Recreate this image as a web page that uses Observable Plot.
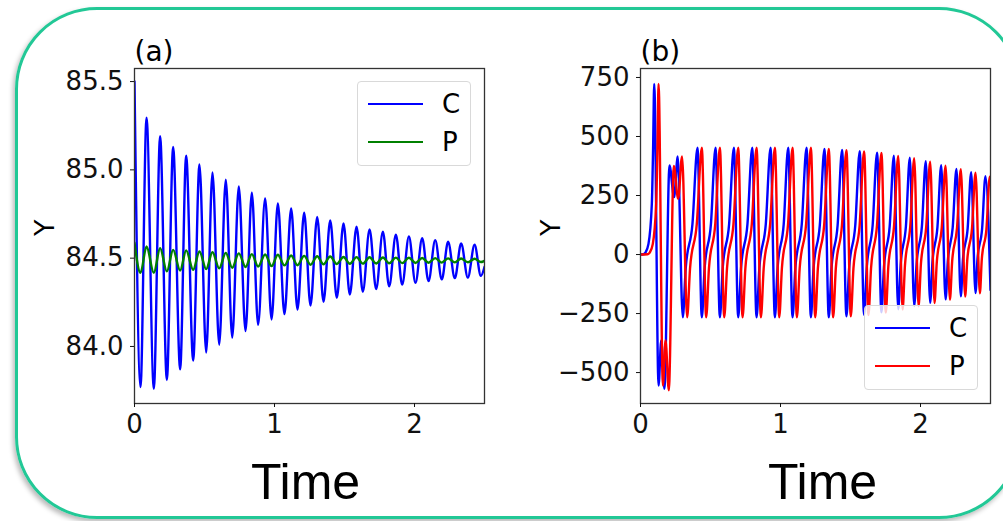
<!DOCTYPE html>
<html>
<head>
<meta charset="utf-8">
<script src="https://cdn.jsdelivr.net/npm/d3@7"></script>
<script src="https://cdn.jsdelivr.net/npm/@observablehq/plot@0.6"></script>
<style>
  html, body { margin: 0; padding: 0; background: #fff; }
  body { width: 1003px; height: 521px; overflow: hidden; position: relative; font-family: "DejaVu Sans", sans-serif; }
  .border { position: absolute; left: 15px; top: 7px; width: 1006px; height: 512px; box-sizing: border-box;
            border: 3px solid #22c896; border-radius: 82px; box-shadow: -2px 3px 5px rgba(0,0,0,0.28); }
  .panel { position: absolute; top: 0; }
  .legend { position: absolute; box-sizing: border-box; border: 1px solid #d9d9d9; border-radius: 4px;
            background: rgba(255,255,255,0.8); }
  .sw { position: absolute; height: 2px; }
  .lt { position: absolute; font-size: 26px; line-height: 26px; color: #000; }
</style>
</head>
<body>
<div class="border"></div>
<div id="pa" class="panel" style="left:0px"></div>
<div id="pb" class="panel" style="left:500px"></div>
<script>
// ---------- Panel (a) data ----------
const timeA = [0, 0.043, 0.086, 0.138, 0.183, 0.231, 0.276, 0.326, 0.369, 0.419, 0.464, 0.512, 0.557, 0.605, 0.652, 0.698, 0.745, 0.793, 0.838, 0.883, 0.933, 0.979, 1.024, 1.071, 1.119, 1.164, 1.212, 1.257, 1.305, 1.35, 1.398, 1.445, 1.493, 1.538, 1.586, 1.631, 1.679, 1.726, 1.774, 1.819, 1.867, 1.912, 1.96, 2.007, 2.055, 2.1, 2.148, 2.195, 2.24, 2.288, 2.333, 2.381, 2.429, 2.474, 2.5];
const cA = [85.5, 83.77, 85.295, 83.76, 85.19, 83.81, 85.13, 83.87, 85.08, 83.92, 85.03, 83.966, 84.985, 84.01, 84.944, 84.05, 84.906, 84.087, 84.87, 84.123, 84.838, 84.153, 84.81, 84.183, 84.781, 84.209, 84.757, 84.232, 84.734, 84.253, 84.713, 84.276, 84.696, 84.294, 84.678, 84.31, 84.663, 84.325, 84.65, 84.34, 84.633, 84.35, 84.623, 84.36, 84.613, 84.37, 84.602, 84.38, 84.593, 84.387, 84.583, 84.39, 84.576, 84.40, 84.45];
const pA = [84.587, 84.417, 84.566, 84.417, 84.557, 84.425, 84.547, 84.43, 84.544, 84.434, 84.538, 84.438, 84.534, 84.442, 84.53, 84.446, 84.527, 84.45, 84.523, 84.453, 84.521, 84.455, 84.519, 84.459, 84.515, 84.46, 84.513, 84.463, 84.511, 84.465, 84.509, 84.467, 84.507, 84.468, 84.506, 84.469, 84.505, 84.47, 84.504, 84.471, 84.503, 84.472, 84.502, 84.473, 84.501, 84.474, 84.5, 84.475, 84.499, 84.476, 84.498, 84.477, 84.497, 84.478, 84.485];
const yTicksA = [84.0, 84.5, 85.0, 85.5];

// ---------- Panel (b) data ----------
const timeBC = [0, 0.02, 0.035, 0.057, 0.081, 0.09, 0.098, 0.129, 0.148, 0.171, 0.207, 0.24, 0.266, 0.302,
  0.323, 0.371, 0.407, 0.438,
  0.458, 0.503, 0.536, 0.567,
  0.587, 0.633, 0.667, 0.698,
  0.718, 0.764, 0.798, 0.829,
  0.849, 0.895, 0.929, 0.96,
  0.979, 1.023, 1.055, 1.086,
  1.106, 1.152, 1.186, 1.217,
  1.236, 1.281, 1.314, 1.345,
  1.364, 1.408, 1.44, 1.471,
  1.49, 1.534, 1.566, 1.597,
  1.616, 1.658, 1.69, 1.721,
  1.739, 1.78, 1.81, 1.841,
  1.858, 1.896, 1.924, 1.955,
  1.972, 2.01, 2.038, 2.069,
  2.085, 2.121, 2.148, 2.179,
  2.195, 2.23, 2.257, 2.288,
  2.303, 2.337, 2.362, 2.393,
  2.407, 2.44, 2.464, 2.5];
const cB = [0, 1, 8, 45, 215, 450, 723, -555, -364, -569, 377, 243, 415, -266,
  -58, 129, 452, -266,
  -58, 129, 452, -266,
  -58, 129, 452, -266,
  -58, 129, 452, -266,
  -58, 129, 452, -266,
  -58, 129, 452, -266,
  -58, 129, 452, -266,
  -59, 126, 447, -266,
  -60, 124, 443, -262,
  -59, 123, 438, -255,
  -56, 122, 431, -245,
  -52, 120, 419, -232,
  -46, 121, 410, -218,
  -40, 119, 395, -204,
  -35, 116, 378, -190,
  -30, 114, 363, -177,
  -24, 112, 349, -163,
  -19, 109, 332, -150];
const timeBP = [0, 0.05, 0.066, 0.088, 0.112, 0.121, 0.129, 0.16, 0.179, 0.202, 0.238, 0.269, 0.297, 0.333,
  0.354, 0.402, 0.438, 0.469,
  0.489, 0.534, 0.567, 0.598,
  0.618, 0.664, 0.698, 0.729,
  0.749, 0.795, 0.829, 0.86,
  0.88, 0.926, 0.96, 0.991,
  1.01, 1.054, 1.086, 1.117,
  1.137, 1.183, 1.217, 1.248,
  1.267, 1.312, 1.345, 1.376,
  1.395, 1.439, 1.471, 1.502,
  1.521, 1.565, 1.597, 1.628,
  1.647, 1.689, 1.721, 1.752,
  1.77, 1.811, 1.841, 1.872,
  1.889, 1.927, 1.955, 1.986,
  2.003, 2.041, 2.069, 2.1,
  2.116, 2.152, 2.179, 2.21,
  2.226, 2.261, 2.288, 2.319,
  2.334, 2.368, 2.393, 2.424,
  2.438, 2.471, 2.495, 2.5];
const pB = [0, 1, 8, 45, 215, 450, 723, -555, -364, -575, 375, 236, 415, -266,
  -58, 129, 452, -266,
  -58, 129, 452, -266,
  -58, 129, 452, -266,
  -58, 129, 452, -266,
  -58, 129, 452, -266,
  -58, 129, 452, -266,
  -58, 129, 452, -266,
  -59, 126, 447, -266,
  -60, 124, 442, -262,
  -59, 122, 437, -256,
  -56, 121, 430, -246,
  -52, 120, 418, -233,
  -46, 120, 408, -219,
  -40, 118, 393, -205,
  -35, 115, 376, -191,
  -30, 113, 361, -178,
  -24, 111, 347, -164,
  -19, 108, 330, 300];
const yTicksB = [-500, -250, 0, 250, 500, 750];

const xTicks = [0, 1, 2];
const seriesNames = ["C", "P"];
const colorsA = ["#0000ff", "#008000"];
const colorsB = ["#0000ff", "#ff0000"];

const rows = (ts, vs) => ts.map((t, i) => ({t, v: vs[i]}));

function panel({series, colors, yDomain, yTicks, yFormat, label, width, marginLeft, marginRight, timeDx}) {
  return Plot.plot({
    width, height: 521,
    marginLeft, marginRight, marginTop: 68, marginBottom: 118,
    x: {domain: [0, 2.5]},
    y: {domain: yDomain},
    style: {fontFamily: "DejaVu Sans", color: "#111", background: "transparent", overflow: "visible"},
    marks: [
      ...series.map((s, i) => Plot.line(s, {x: "t", y: "v", stroke: colors[i], strokeWidth: 2.4, curve: "monotone-x", clip: true})),
      Plot.frame({stroke: "#333", strokeWidth: 1.3}),
      Plot.axisX({ticks: xTicks, tickSize: 4, tickPadding: 7, fontSize: 26, label: null, tickFormat: d3.format("d")}),
      Plot.axisY({ticks: yTicks, tickSize: 4, tickPadding: 7, fontSize: 26, label: null, tickFormat: yFormat}),
      Plot.text([label], {text: d => d, frameAnchor: "top-left", textAnchor: "start", lineAnchor: "bottom", dy: -8, fontSize: 28, fill: "#000"}),
      Plot.text(["Y"], {text: d => d, frameAnchor: "left", rotate: -90, dx: -89, fontSize: 27, fill: "#000"}),
      Plot.text(["Time"], {text: d => d, frameAnchor: "bottom", dy: 95, dx: timeDx, fontSize: 50, fontFamily: "Liberation Sans", fill: "#000"})
    ]
  });
}

document.getElementById("pa").appendChild(panel({
  series: [rows(timeA, cA), rows(timeA, pA)], colors: colorsA,
  yDomain: [83.677, 85.574], yTicks: yTicksA, yFormat: d3.format(".1f"),
  label: "(a)", width: 500, marginLeft: 134, marginRight: 16, timeDx: -4
}));
document.getElementById("pb").appendChild(panel({
  series: [rows(timeBC, cB), rows(timeBP, pB)], colors: colorsB,
  yDomain: [-631, 788], yTicks: yTicksB, yFormat: d3.format("d"),
  label: "(b)", width: 503, marginLeft: 140, marginRight: 13, timeDx: 7
}));

function legend(left, top, colors) {
  const box = document.createElement("div");
  box.className = "legend";
  Object.assign(box.style, {left: left + "px", top: top + "px", width: "114px", height: "85px"});
  seriesNames.forEach((name, i) => {
    const sw = document.createElement("div");
    sw.className = "sw";
    Object.assign(sw.style, {left: "10px", top: (21 + i * 38) + "px", width: "55px", background: colors[i]});
    const tx = document.createElement("div");
    tx.className = "lt";
    tx.textContent = name;
    Object.assign(tx.style, {left: "84px", top: (9 + i * 38) + "px"});
    box.appendChild(sw); box.appendChild(tx);
  });
  document.body.appendChild(box);
}
legend(357, 81, colorsA);
legend(864, 305, colorsB);
</script>
</body>
</html>
